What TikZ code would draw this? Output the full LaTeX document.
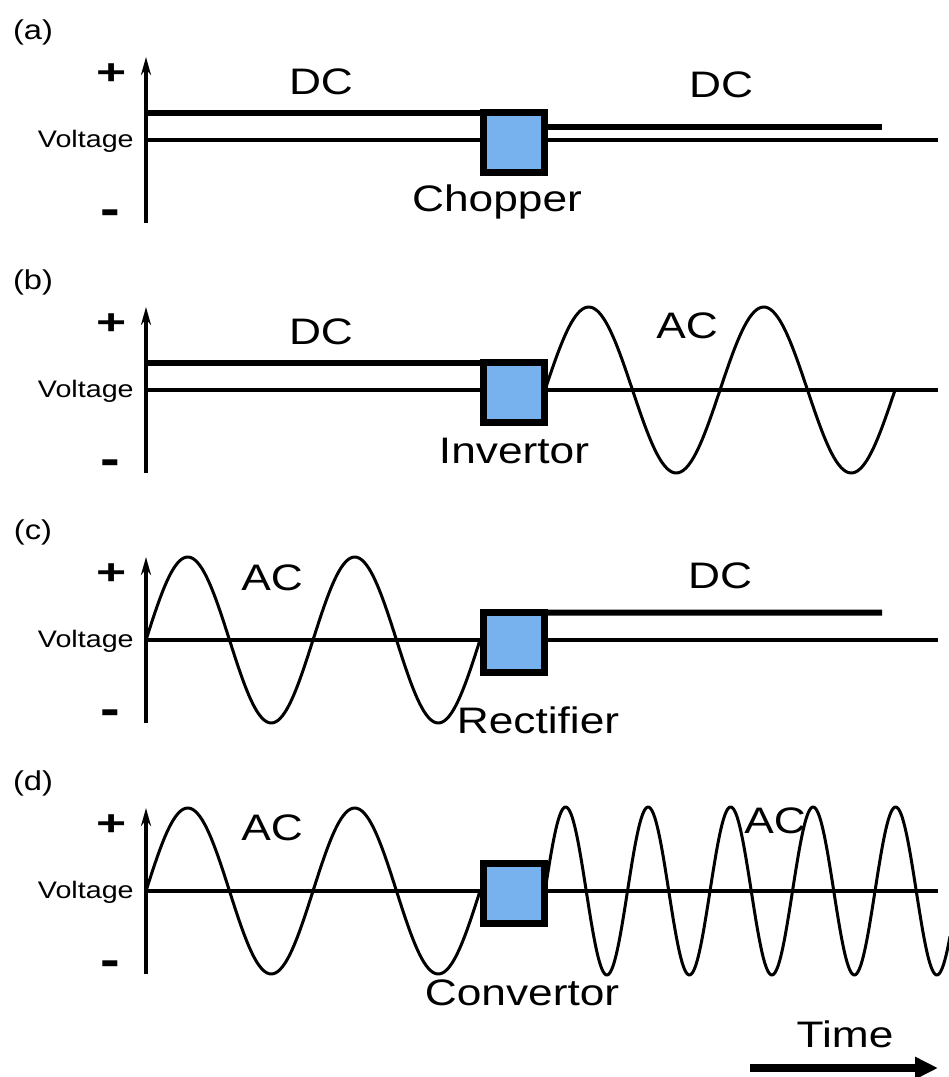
\documentclass[tikz,border=0pt]{standalone}
\usepackage{fontspec}
\setmainfont{Liberation Sans}
\usepackage{graphicx}
\usepackage{xcolor}
\usetikzlibrary{arrows.meta, positioning}

\definecolor{boxblue}{RGB}{120,178,238}
\newcommand{\wtext}[1]{\scalebox{1.2}[1]{#1}}

\begin{document}
\begin{tikzpicture}[
  x=0.02cm, y=-0.02cm,
  lbl/.style={font=\fontsize{21}{25}\selectfont, inner sep=0pt, anchor=base},
  plabel/.style={font=\fontsize{15.5}{18}\selectfont, inner sep=0pt},
  vlbl/.style={font=\fontsize{13.6}{16}\selectfont, inner sep=0pt, anchor=east},
  pmsign/.style={font=\fontsize{28}{30}\selectfont\bfseries, inner sep=0pt},
  conv/.style={draw, line width=0.14cm, fill=boxblue, minimum width=1.22cm,
               minimum height=1.2cm, inner sep=0pt, outer sep=0pt},
  vaxis/.style={line width=0.066cm, -{Stealth[length=0.36cm, width=0.2cm]}},
  zeroline/.style={line width=0.066cm},
  dc/.style={line width=0.12cm},
  wave/.style={line width=0.06cm, line join=round},
  timearr/.style={line width=0.16cm, -{Triangle[length=0.46cm, width=0.42cm]}}
]
  \useasboundingbox (0,0) rectangle (948,1077);

  % axes, zero lines and side labels of the four panels
  \foreach \B/\tag in {140/a, 390/b, 640/c, 891/d} {
    \coordinate (o-\tag) at (146,\B);
    \coordinate (e-\tag) at (938,\B);
    \coordinate (lo-\tag) at (146,\B+83);
    \coordinate (hi-\tag) at (146,\B-83);
    \draw[zeroline] (o-\tag) -- (e-\tag);
    \draw[vaxis] (lo-\tag) -- (hi-\tag);
    \node[plabel] (lab-\tag) at (33,\B-108) {\wtext{(\tag)}};
    \node[pmsign] (plus-\tag) at (112,\B-66) {\scalebox{1.05}[0.72]{+}};
    \node[pmsign] (minus-\tag) at (110,\B+78) {\scalebox{1.2}[1]{-}};
    \node[vlbl] (volt-\tag) at (134,\B+1) {\wtext{Voltage}};
  }

  % converter boxes
  \node[conv] (chop) at (514,142.5) {};
  \node[conv] (inv) at (514,392.5) {};
  \node[conv] (rect) at (514,642.5) {};
  \node[conv] (cvt) at (514,893.5) {};

  % (a) DC -> DC
  \coordinate (dcend-a) at (882,127);
  \draw[dc] (o-a |- chop.north) -- (chop.north east);
  \draw[dc] (chop.east |- dcend-a) -- (dcend-a);
  \node[lbl] (dc-a1) at (321,95) {\wtext{DC}};
  \node[lbl] (dc-a2) at (721,98) {\wtext{DC}};
  \node[lbl] (chop-l) at (497,212) {\wtext{Chopper}};

  % (b) DC -> AC
  \draw[dc] (o-b |- inv.north) -- (inv.north west);
  \draw[wave] plot[domain=545:895, samples=150, smooth]
    (\x, {390-83*sin((\x-545)/175*360)});
  \node[lbl] (dc-b) at (321,345) {\wtext{DC}};
  \node[lbl] (ac-b) at (687,338) {\wtext{AC}};
  \node[lbl] (inv-l) at (514,463) {\wtext{Invertor}};

  % (c) AC -> DC
  \draw[wave] plot[domain=146:480, samples=150, smooth]
    (\x, {640-83*sin((\x-146)/167*360)});
  \coordinate (dcend-c) at (882,612.5);
  \draw[dc] (rect.north east) -- (dcend-c);
  \node[lbl] (ac-c) at (272,590) {\wtext{AC}};
  \node[lbl] (dc-c) at (720,588) {\wtext{DC}};
  \node[lbl] (rect-l) at (538,733) {\wtext{Rectifier}};

  % (d) AC -> AC
  \draw[wave] plot[domain=146:480, samples=150, smooth]
    (\x, {891-83*sin((\x-146)/167*360)});
  \draw[wave] plot[domain=545:950, samples=300, smooth]
    (\x, {891-84*sin((\x-545)/82.5*360)});
  \node[lbl] (ac-d1) at (272,840) {\wtext{AC}};
  \node[lbl] (ac-d2) at (775,833) {\wtext{AC}};
  \node[lbl] (cvt-l) at (522,1005) {\wtext{Convertor}};

  % time arrow
  \coordinate (t0) at (750,1068);
  \coordinate (t1) at (938,1068);
  \draw[timearr] (t0) -- (t1);
  \node[lbl] (time-l) at (845,1047) {\wtext{Time}};
\end{tikzpicture}
\end{document}
